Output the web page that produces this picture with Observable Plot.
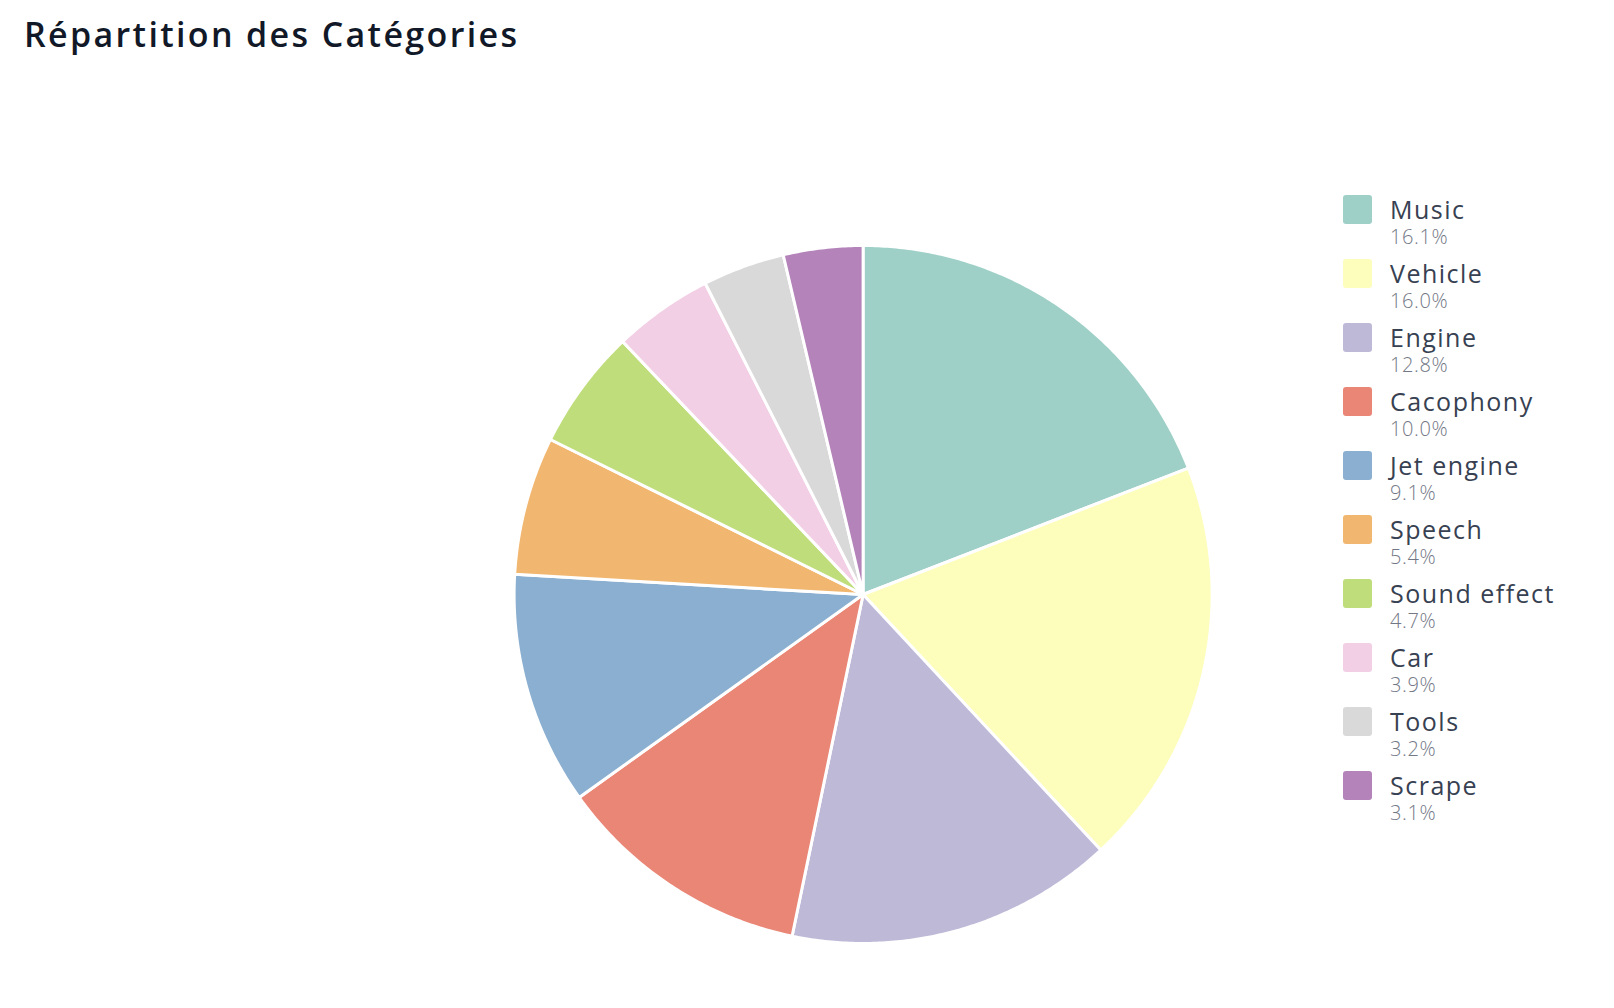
<!DOCTYPE html>
<html>
<head>
<meta charset="utf-8">
<script src="https://cdn.jsdelivr.net/npm/d3@7"></script>
<script src="https://cdn.jsdelivr.net/npm/@observablehq/plot@0.6"></script>
<style>
  html, body { margin: 0; padding: 0; background: #fff; }
  #page { position: relative; width: 1614px; height: 1008px; overflow: hidden; font-family: "Open Sans", "Noto Sans", sans-serif; }
  #title { position: absolute; left: 24px; top: 14px; font-size: 34px; line-height: 1.2; font-weight: 600; color: #111827; letter-spacing: 2.35px; }
  #chart { position: absolute; left: 0; top: 70px; }
  #legend { position: absolute; left: 1343px; top: 195px; }
  .item { position: relative; height: 64px; }
  .sw { position: absolute; left: 0; top: 0; width: 29px; height: 29px; border-radius: 3px; }
  .lab { position: absolute; left: 47px; top: 2px; font-size: 25px; line-height: 1; color: #374151; white-space: nowrap; letter-spacing: 1.5px; }
  .pct { position: absolute; left: 47px; top: 32px; font-size: 20px; line-height: 1; color: #737886; font-weight: 300; white-space: nowrap; letter-spacing: 0.6px; }
</style>
</head>
<body>
<div id="page">
  <div id="title">Répartition des Catégories</div>
  <div id="chart"></div>
  <div id="legend"></div>
</div>
<script>
const categories = ["Music", "Vehicle", "Engine", "Cacophony", "Jet engine", "Speech", "Sound effect", "Car", "Tools", "Scrape"];
const percentages = [16.1, 16.0, 12.8, 10.0, 9.1, 5.4, 4.7, 3.9, 3.2, 3.1];
const colors = ["#9ed0c7", "#fdfdbc", "#bfb9d8", "#ea8676", "#8bafd0", "#f1b770", "#bfdd7b", "#f2cfe4", "#d9d9d9", "#b383b9"];

// Pie geometry from data via d3.pie (angles clockwise from top)
const arcs = d3.pie().sort(null).value(d => d)(percentages);
const points = [];
arcs.forEach((a, i) => {
  const cat = categories[i];
  points.push({cat, x: 0, y: 0});
  const n = Math.max(2, Math.ceil((a.endAngle - a.startAngle) / (Math.PI / 360)));
  for (let k = 0; k <= n; k++) {
    const t = a.startAngle + (a.endAngle - a.startAngle) * k / n;
    points.push({cat, x: Math.sin(t), y: Math.cos(t)});
  }
});

const W = 1614, H = 938;
const cx = 862.6, cy = 524, R = 349;

const plot = Plot.plot({
  width: W,
  height: H,
  marginLeft: cx - R,
  marginRight: W - (cx + R),
  marginTop: cy - R,
  marginBottom: H - (cy + R),
  x: {domain: [-1, 1], axis: null},
  y: {domain: [-1, 1], axis: null},
  color: {domain: categories, range: colors},
  marks: [
    Plot.line(points, {
      x: "x", y: "y", z: "cat", fill: "cat",
      stroke: "white", strokeWidth: 3, strokeLinejoin: "round",
      curve: "linear-closed"
    })
  ]
});
document.getElementById("chart").appendChild(plot);

const color = plot.scale("color");
const legend = d3.select("#legend");
categories.forEach((c, i) => {
  const item = legend.append("div").attr("class", "item");
  item.append("div").attr("class", "sw").style("background", color.apply ? color.apply(c) : colors[i]);
  item.append("div").attr("class", "lab").text(c);
  item.append("div").attr("class", "pct").text(percentages[i].toFixed(1) + "%");
});
</script>
</body>
</html>
